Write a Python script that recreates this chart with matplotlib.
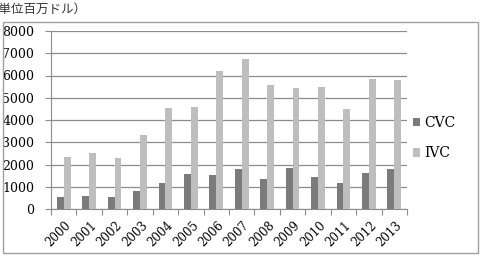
import matplotlib
import matplotlib.pyplot as plt
from matplotlib.patches import Rectangle
from matplotlib.transforms import ScaledTranslation
import numpy as np

years = ["2000", "2001", "2002", "2003", "2004", "2005", "2006",
         "2007", "2008", "2009", "2010", "2011", "2012", "2013"]
cvc = [560, 590, 540, 820, 1150, 1580, 1550, 1780, 1350, 1830, 1430, 1180, 1610, 1780]
ivc = [2320, 2520, 2270, 3320, 4560, 4580, 6190, 6740, 5560, 5460, 5500, 4500, 5860, 5790]
y_ticks = [0, 1000, 2000, 3000, 4000, 5000, 6000, 7000, 8000]
unit_label = "（単位百万ドル）"

matplotlib.rcParams.update({
	"font.family": ["DejaVu Serif"],
	"font.size": 9,
})

W, H = 485, 256
fig = plt.figure(figsize=(W / 100, H / 100), dpi=100)
ax = fig.add_axes([51 / W, 1 - 209 / H, (407 - 51) / W, (209 - 31) / H])

x = np.arange(len(years))
w = 0.27
ax.bar(x - w / 2, cvc, width=w, color="#7b7b7b", label="CVC", zorder=3)
ax.bar(x + w / 2, ivc, width=w, color="#bebebe", label="IVC", zorder=3)

ax.set_xlim(-0.5, len(years) - 0.5)
ax.set_ylim(0, 8000)
ax.set_yticks(y_ticks)
ax.set_yticklabels([str(v) for v in y_ticks], fontsize=9)
ax.yaxis.grid(True, color="#8c8c8c", linewidth=0.9, zorder=0)

# category boundary ticks, labels at category centre
ax.set_xticks(np.arange(len(years) + 1) - 0.5)
ax.set_xticklabels([])
ax.set_xticks(x, minor=True)
ax.set_xticklabels(years, minor=True, rotation=45, ha="right", rotation_mode="anchor", fontsize=8.5)
ax.tick_params(axis="x", which="minor", length=0, pad=7)
ax.tick_params(axis="x", which="major", length=4, color="#8c8c8c")
ax.tick_params(axis="y", length=4, color="#8c8c8c", pad=8)
offset = ScaledTranslation(1 / 100, 0, fig.dpi_scale_trans)
for lbl in ax.get_xticklabels(minor=True):
	lbl.set_transform(lbl.get_transform() + offset)

for s in ["top", "right"]:
	ax.spines[s].set_visible(False)
ax.spines["left"].set_color("#8c8c8c")
ax.spines["bottom"].set_color("#8c8c8c")

ax.legend(loc="upper left", bbox_to_anchor=(410 / W, 1 - 113 / H), bbox_transform=fig.transFigure,
	frameon=False, fontsize=10, handlelength=0.55, handleheight=0.55, handletextpad=0.3,
	labelspacing=1.2, borderaxespad=0.0, borderpad=0.2)

fig.patches.append(Rectangle((3 / W, 3 / H), 475 / W, 231 / H, transform=fig.transFigure,
	fill=False, edgecolor="#a0a0a0", linewidth=1.0))
fig.text(-14 / W, 1 - 13 / H, unit_label, fontsize=9, va="baseline", ha="left", color="#333333",
	family=["Noto Sans CJK JP", "DejaVu Sans"])

plt.savefig("out.png", dpi=100)
plt.close()
